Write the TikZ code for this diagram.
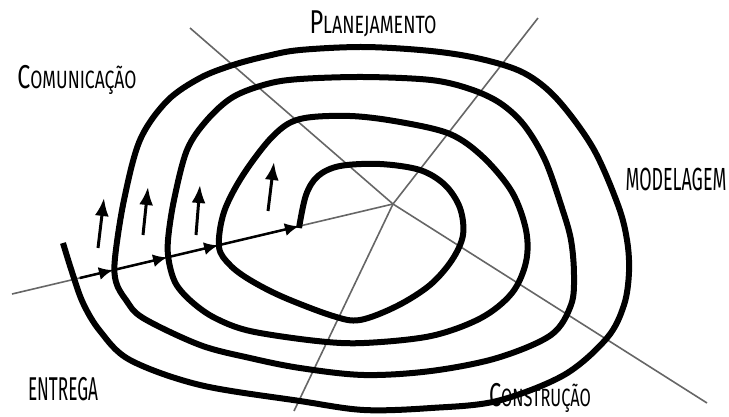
\documentclass[tikz,border=0pt]{standalone}
\usepackage{fontspec}
\setmainfont{Fira Sans}
\usetikzlibrary{arrows.meta,calc}

% big first letter, smaller capitals after it
\newcommand{\capsc}[2]{{\fontsize{33}{33}\selectfont #1}{\fontsize{25}{25}\selectfont #2}}
% squeeze a word to a given width, keeping its height
\newcommand{\squeeze}[2]{\resizebox{#1}{\height}{#2}}

\begin{document}
\begin{tikzpicture}[x=1pt, y=-1pt, >=Stealth,
    raio/.style={draw=black!60, line width=1.6pt},
    espiral/.style={line width=6pt, line join=round},
    seta/.style={-{Latex[length=14pt,width=13pt]}, line width=2.5pt},
    sobe/.style={-{Latex[length=18pt,width=14pt]}, line width=3pt},
    fase/.style={inner sep=0pt, anchor=base}]
    \useasboundingbox (0,0) rectangle (729,416);

    % centre and the five rays
    \coordinate (o) at (393,204);
    \coordinate (rpl) at (190,28);
    \coordinate (rmo) at (538,18);
    \coordinate (rco) at (707,403);
    \coordinate (ren) at (294,411);
    \coordinate (rcm) at (12,294);
    \foreach \r in {rpl,rmo,rco,ren,rcm}
        \draw[raio] (o) -- (\r);

    % the spiral, from the outer tail to the inner hook
    \draw[espiral] plot[smooth, tension=0.55] coordinates {
        (63,243) (72,272) (83,303) (100,331) (130,360) (200,385) (300,401)
        (364,410) (431,408) (497,401) (564,375) (607,338) (624,305) (629,272)
        (627,240) (618,205) (593,148) (557,99) (524,73) (481,59) (431,51)
        (364,47) (300,50) (267,56) (233,65) (200,78) (167,101) (140,140)
        (124,200) (115,258) (116,282) (126,300) (143,318) (200,345) (250,358)
        (300,368) (364,375) (431,371) (497,358) (551,335) (571,305) (574,275)
        (571,240) (562,208) (545,160) (524,125) (500,103) (470,89) (431,80)
        (364,77) (300,79) (267,84) (233,97) (207,120) (187,150) (174,200)
        (168,240) (169,262) (176,284) (192,302) (215,318) (250,331) (317,341)
        (364,343) (431,336) (481,318) (512,293) (526,262) (526,230) (512,192)
        (483,157) (450,134) (400,122) (350,116) (300,119) (273,136) (243,175)
        (224,212) (219,247) (230,265) (250,280) (283,297) (333,316) (360,320)
        (397,306) (430,285) (452,260) (463,235) (460,208) (445,185) (420,170)
        (380,164) (340,166) (318,176) (306,195) (299,228)};

    % arrows along the ray, from crossing to crossing
    \foreach \n/\t in {c0/0.178, c1/0.265, c2/0.407, c3/0.541, c4/0.753}
        \coordinate (\n) at ($(rcm)!\t!(o)$);
    \foreach \a/\b in {c0/c1, c1/c2, c2/c3, c3/c4}
        \draw[seta] (\a) -- (\b);

    % small upward arrows
    \foreach \n/\xa/\ya/\xb/\yb in {1/98/248/104/198, 2/143/235/148/187,
                                    3/196/235/200/185, 4/268/211/274/162} {
        \coordinate (p\n) at (\xa,\ya);
        \coordinate (q\n) at (\xb,\yb);
        \draw[sobe] (p\n) -- (q\n);
    }

    % phase names
    \node[fase] (planej) at (373,33) {\squeeze{127pt}{\capsc{P}{LANEJAMENTO}}};
    \node[fase] (comun) at (77,88) {\squeeze{119pt}{\capsc{C}{OMUNICAÇÃO}}};
    \node[fase] (model) at (676,190) {\squeeze{101pt}{\fontsize{32}{32}\selectfont MODELAGEM}};
    \node[fase] (entreg) at (63,400) {\squeeze{70pt}{\fontsize{33}{33}\selectfont ENTREGA}};
    \node[fase] (constr) at (540,406) {\squeeze{102pt}{\capsc{C}{ONSTRUÇÃO}}};
\end{tikzpicture}
\end{document}
